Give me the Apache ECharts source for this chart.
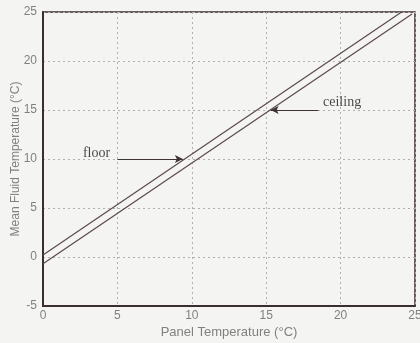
<!DOCTYPE html>
<html>
<head>
<meta charset="utf-8">
<script src="https://cdn.jsdelivr.net/npm/echarts@6/dist/echarts.min.js"></script>
<style>
  html, body { margin: 0; padding: 0; background: #f4f4f2; }
  #chart { width: 420px; height: 343px; }
</style>
</head>
<body>
<div id="chart"></div>
<script>
// the two measured lines, [panel temp, mean fluid temp]
var floorLine = [[0, 0.2], [24.1, 25]];
var ceilingLine = [[0, -0.7], [24.8, 24.8]];

// annotation arrows: [from, to] in data units
var floorArrow = [[5.0, 10], [9.4, 10]];
var ceilingArrow = [[18.5, 15], [15.3, 15]];
var floorText = [3.6, 10.6];
var ceilingText = [20.1, 15.8];

var chart = echarts.init(document.getElementById('chart'));

var lineColor = '#5b4a4a';

function arrowMark(pts) {
    return {
        silent: true,
        symbol: ['none', 'arrow'],
        symbolSize: [6, 8],
        lineStyle: { color: '#3d3333', width: 1, type: 'solid' },
        label: { show: false },
        data: [[{ coord: pts[0] }, { coord: pts[1] }]]
    };
}

var option = {
    animation: false,
    backgroundColor: '#f4f4f2',
    grid: { left: 43, right: 5, top: 12, bottom: 37, containLabel: false,
            outerBoundsMode: 'none',
            show: true, borderColor: '#3a2e2e', borderWidth: 1.5 },
    xAxis: {
        type: 'value', min: 0, max: 25, interval: 5,
        name: 'Panel Temperature (°C)', nameLocation: 'middle', nameGap: 20,
        nameMoveOverlap: false,
        nameTextStyle: { color: '#808080', fontSize: 13, fontFamily: 'Liberation Sans' },
        axisLine: { show: true, onZero: false, lineStyle: { color: '#3a2e2e', width: 2 } },
        axisTick: { show: false },
        axisLabel: { color: '#808080', fontSize: 12, fontFamily: 'Liberation Sans', margin: 4 },
        splitLine: { show: true, lineStyle: { color: '#b0b0b0', type: [2, 3], width: 1 } }
    },
    yAxis: {
        type: 'value', min: -5, max: 25, interval: 5,
        name: 'Mean Fluid Temperature (°C)', nameLocation: 'middle', nameGap: 21,
        nameMoveOverlap: false,
        nameTextStyle: { color: '#808080', fontSize: 12, fontFamily: 'Liberation Sans' },
        axisLine: { show: true, onZero: false, lineStyle: { color: '#3a2e2e', width: 2 } },
        axisTick: { show: false },
        axisLabel: { color: '#808080', fontSize: 12, fontFamily: 'Liberation Sans', margin: 6 },
        splitLine: { show: true, lineStyle: { color: '#b0b0b0', type: [2, 3], width: 1 } }
    },
    series: [
        {
            name: 'floor', type: 'line', data: floorLine, showSymbol: false,
            lineStyle: { color: lineColor, width: 1.2 },
            markLine: arrowMark(floorArrow)
        },
        {
            name: 'ceiling', type: 'line', data: ceilingLine, showSymbol: false,
            lineStyle: { color: lineColor, width: 1.2 },
            markLine: arrowMark(ceilingArrow)
        },
        {
            name: 'labels', type: 'scatter', symbolSize: 0, silent: true,
            data: [
                { value: floorText, label: { formatter: 'floor' } },
                { value: ceilingText, label: { formatter: 'ceiling' } }
            ],
            label: {
                show: true, position: 'inside', color: '#1e1a1a',
                fontSize: 14, fontFamily: 'Liberation Serif'
            }
        }
    ]
};

chart.setOption(option);
</script>
</body>
</html>
